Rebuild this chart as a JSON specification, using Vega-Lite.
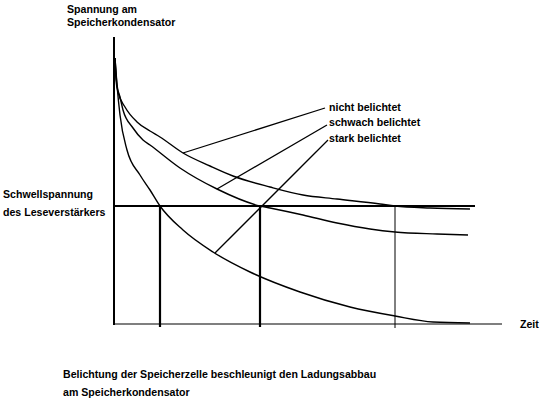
{
  "$schema": "https://vega.github.io/schema/vega-lite/v6.json",
  "width": 542,
  "height": 399,
  "autosize": {"type": "fit", "contains": "padding"},
  "padding": 0,
  "background": "white",
  "config": {"view": {"stroke": null}},
  "datasets": {
    "curves": [
      {"serie": "nicht belichtet", "t": 0, "U": 267},
      {"serie": "nicht belichtet", "t": 1, "U": 245},
      {"serie": "nicht belichtet", "t": 3, "U": 233},
      {"serie": "nicht belichtet", "t": 10, "U": 218},
      {"serie": "nicht belichtet", "t": 22, "U": 203},
      {"serie": "nicht belichtet", "t": 35, "U": 194},
      {"serie": "nicht belichtet", "t": 45, "U": 188},
      {"serie": "nicht belichtet", "t": 68, "U": 172},
      {"serie": "nicht belichtet", "t": 95, "U": 159},
      {"serie": "nicht belichtet", "t": 118, "U": 149},
      {"serie": "nicht belichtet", "t": 155, "U": 138},
      {"serie": "nicht belichtet", "t": 188, "U": 130},
      {"serie": "nicht belichtet", "t": 222, "U": 126},
      {"serie": "nicht belichtet", "t": 265, "U": 121},
      {"serie": "nicht belichtet", "t": 280, "U": 119},
      {"serie": "nicht belichtet", "t": 315, "U": 117},
      {"serie": "nicht belichtet", "t": 355, "U": 116},
      {"serie": "schwach belichtet", "t": 0, "U": 267},
      {"serie": "schwach belichtet", "t": 2, "U": 240},
      {"serie": "schwach belichtet", "t": 5, "U": 228},
      {"serie": "schwach belichtet", "t": 8, "U": 215},
      {"serie": "schwach belichtet", "t": 18, "U": 197},
      {"serie": "schwach belichtet", "t": 28, "U": 185},
      {"serie": "schwach belichtet", "t": 35, "U": 180},
      {"serie": "schwach belichtet", "t": 65, "U": 157},
      {"serie": "schwach belichtet", "t": 102, "U": 136},
      {"serie": "schwach belichtet", "t": 145, "U": 119},
      {"serie": "schwach belichtet", "t": 155, "U": 117},
      {"serie": "schwach belichtet", "t": 188, "U": 110},
      {"serie": "schwach belichtet", "t": 222, "U": 102},
      {"serie": "schwach belichtet", "t": 255, "U": 96},
      {"serie": "schwach belichtet", "t": 280, "U": 93},
      {"serie": "schwach belichtet", "t": 322, "U": 91},
      {"serie": "schwach belichtet", "t": 353, "U": 90},
      {"serie": "stark belichtet", "t": 0, "U": 267},
      {"serie": "stark belichtet", "t": 2, "U": 240},
      {"serie": "stark belichtet", "t": 5, "U": 210},
      {"serie": "stark belichtet", "t": 12, "U": 175},
      {"serie": "stark belichtet", "t": 25, "U": 150},
      {"serie": "stark belichtet", "t": 35, "U": 135},
      {"serie": "stark belichtet", "t": 45, "U": 119},
      {"serie": "stark belichtet", "t": 68, "U": 95},
      {"serie": "stark belichtet", "t": 98, "U": 73},
      {"serie": "stark belichtet", "t": 135, "U": 53},
      {"serie": "stark belichtet", "t": 185, "U": 33},
      {"serie": "stark belichtet", "t": 235, "U": 18},
      {"serie": "stark belichtet", "t": 280, "U": 9},
      {"serie": "stark belichtet", "t": 318, "U": 3},
      {"serie": "stark belichtet", "t": 355, "U": 2}
    ],
    "segments": [
      {"name": "y-Achse", "t": -1, "U": 0, "t2": -1, "U2": 288, "w": 2},
      {"name": "x-Achse", "t": -1, "U": 1, "t2": 387, "U2": 1, "w": 1.2},
      {"name": "Schwelle", "t": -1, "U": 119, "t2": 360, "U2": 119, "w": 2},
      {"name": "v1", "t": 45, "U": -2, "t2": 45, "U2": 119, "w": 2.2},
      {"name": "v2", "t": 145, "U": -2, "t2": 145, "U2": 119, "w": 2.2},
      {"name": "v3", "t": 280, "U": -3, "t2": 280, "U2": 119, "w": 1},
      {"name": "l-nicht", "t": 68, "U": 172, "t2": 210, "U2": 217, "w": 1.3},
      {"name": "l-schwach", "t": 102, "U": 136, "t2": 212, "U2": 200, "w": 1.3},
      {"name": "l-stark", "t": 100, "U": 72, "t2": 213, "U2": 185, "w": 1.3}
    ],
    "labels": [
      {"txt": "Spannung am", "t": -48, "U": 315},
      {"txt": "Speicherkondensator", "t": -48, "U": 302},
      {"txt": "nicht belichtet", "t": 214, "U": 217},
      {"txt": "schwach belichtet", "t": 214, "U": 202},
      {"txt": "stark belichtet", "t": 214, "U": 186},
      {"txt": "Schwellspannung", "t": -112, "U": 130},
      {"txt": "des Leseverstärkers", "t": -112, "U": 112},
      {"txt": "Zeit", "t": 405, "U": 0},
      {"txt": "Belichtung der Speicherzelle beschleunigt den Ladungsabbau", "t": -52, "U": -50},
      {"txt": "am Speicherkondensator", "t": -52, "U": -68}
    ]
  },
  "layer": [
    {
      "data": {"name": "segments"},
      "mark": {"type": "rule", "color": "black"},
      "encoding": {
        "x": {"field": "t", "type": "quantitative", "scale": {"domain": [-115, 427]}, "axis": null},
        "y": {"field": "U", "type": "quantitative", "scale": {"domain": [-74, 325]}, "axis": null},
        "x2": {"field": "t2"},
        "y2": {"field": "U2"},
        "strokeWidth": {"field": "w", "type": "quantitative", "scale": null}
      }
    },
    {
      "data": {"name": "curves"},
      "mark": {"type": "line", "color": "black", "strokeWidth": 1.4, "interpolate": "monotone"},
      "encoding": {
        "x": {"field": "t", "type": "quantitative", "scale": {"domain": [-115, 427]}, "axis": null},
        "y": {"field": "U", "type": "quantitative", "scale": {"domain": [-74, 325]}, "axis": null},
        "detail": {"field": "serie"},
        "order": {"field": "t", "type": "quantitative"}
      }
    },
    {
      "data": {"name": "labels"},
      "mark": {"type": "text", "align": "left", "baseline": "middle", "font": "Liberation Sans", "fontSize": 10.6, "fontWeight": "bold", "color": "black"},
      "encoding": {
        "x": {"field": "t", "type": "quantitative", "scale": {"domain": [-115, 427]}, "axis": null},
        "y": {"field": "U", "type": "quantitative", "scale": {"domain": [-74, 325]}, "axis": null},
        "text": {"field": "txt"}
      }
    }
  ]
}
